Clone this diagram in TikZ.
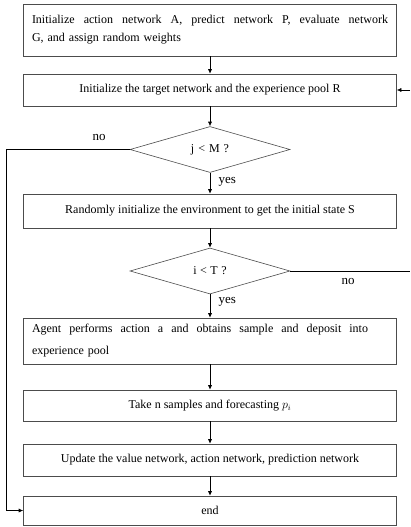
\documentclass[tikz,border=0pt]{standalone}
\usepackage{fontspec}
\setmainfont{Liberation Serif}
\usetikzlibrary{arrows.meta,shapes.geometric}

\newcommand{\fullline}[2]{\makebox[#1][s]{\spaceskip=.25em plus 1em\relax #2}}

\begin{document}
\begin{tikzpicture}[
  x=1pt, y=-1pt,
  >={Latex[length=4.5pt,width=4pt]},
  font=\fontsize{12}{18}\selectfont,
  stepbox/.style={draw=black!70, line width=0.6pt, minimum width=373pt,
    inner xsep=8.5pt, align=center},
  test/.style={draw=black!70, line width=0.6pt, diamond, aspect=3.5,
    minimum width=160pt, minimum height=46pt, inner sep=0pt},
  flow/.style={->, line width=0.6pt},
  lab/.style={font=\fontsize{13}{13}\selectfont}
]
\useasboundingbox (0,0) rectangle (410,527);

% main column
\node[stepbox, minimum height=52pt, text width=356pt, align=left] (init) at (210,30)
  {\fullline{356pt}{Initialize action network A, predict network P, evaluate network}\\
   G, and assign random weights};
\node[stepbox, minimum height=32pt] (target) at (210,90)
  {Initialize the target network and the experience pool R};
\node[test] (jm) at (210,149.5) {j\hspace{4pt}<\hspace{4pt}M\hspace{4pt}?};
\node[stepbox, minimum height=34pt] (env) at (210,211)
  {Randomly initialize the environment to get the initial state S};
\node[test] (it) at (210,271) {i\hspace{3.5pt}<\hspace{3.5pt}T\hspace{3.5pt}?};
\node[stepbox, minimum height=46pt, text width=356pt, align=left,
  font=\fontsize{12}{22}\selectfont] (agent) at (210,341)
  {\fullline{336pt}{Agent performs action a and obtains sample and deposit into}\\
   experience pool};
\node[stepbox, minimum height=31pt] (take) at (210,405.5)
  {Take n samples and forecasting $p_i$};
\node[stepbox, minimum height=32pt] (update) at (210,460)
  {Update the value network, action network, prediction network};
\node[stepbox, minimum height=29pt] (end) at (210,510.5) {end};

\draw[flow] (init) -- (target);
\draw[flow] (target) -- (jm);
\draw[flow] (jm) -- (env);
\draw[flow] (env) -- (it);
\draw[flow] (it) -- (agent);
\draw[flow] (agent) -- (take);
\draw[flow] (take) -- (update);
\draw[flow] (update) -- (end);

% side branches
\coordinate (loopl) at (6,149.5);
\draw[flow] (jm.west) -- (loopl) |- (end.west);
\coordinate (rin) at (410,90);
\draw[flow] (rin) -- (target.east);
\coordinate (rout) at (410,271);
\draw[line width=0.6pt] (it.east) -- (rout);

\node[lab] (no1) at (99,137) {no};
\node[lab, anchor=west] (yes1) at (215,182) {yes};
\node[lab] (no2) at (348,281) {no};
\node[lab, anchor=west] (yes2) at (215,302) {yes};

\end{tikzpicture}
\end{document}
